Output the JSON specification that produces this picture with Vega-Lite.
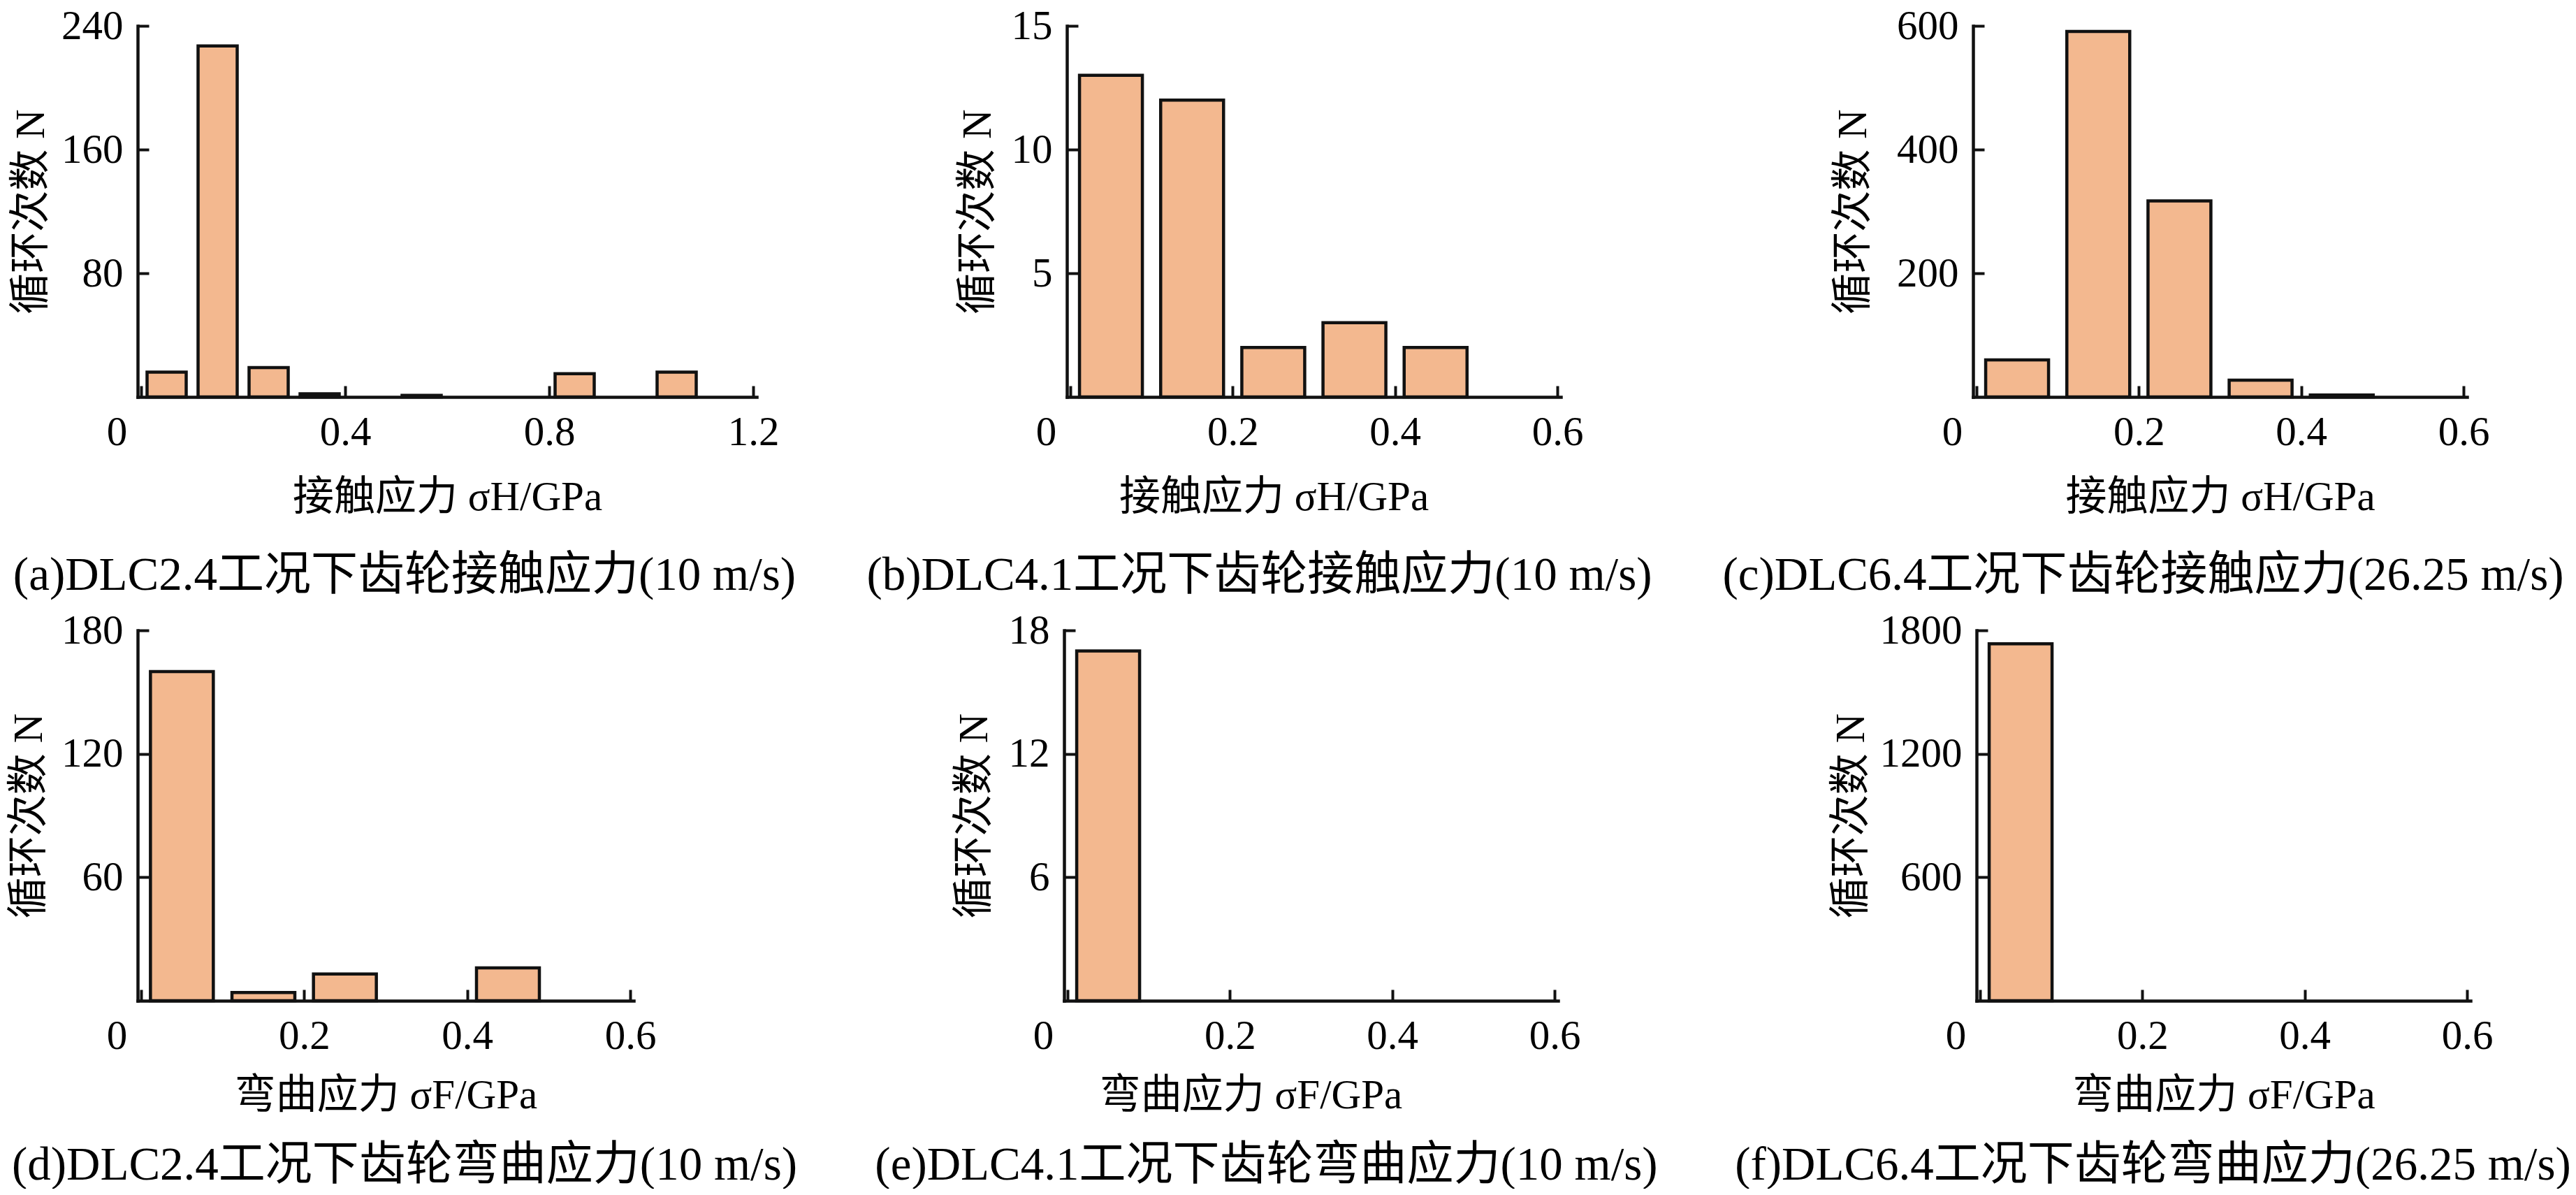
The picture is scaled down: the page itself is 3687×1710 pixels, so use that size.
{
  "$schema": "https://vega.github.io/schema/vega-lite/v6.json",
  "description": "Gear stress histograms (cycle counts) for DLC2.4, DLC4.1, DLC6.4",
  "background": "white",
  "padding": {"left": 11, "top": 8, "right": 0, "bottom": 0},
  "data": {
    "values": [
      {"panel": "a", "stress": 0.05, "N": 16},
      {"panel": "a", "stress": 0.15, "N": 227},
      {"panel": "a", "stress": 0.25, "N": 19},
      {"panel": "a", "stress": 0.35, "N": 2},
      {"panel": "a", "stress": 0.55, "N": 1},
      {"panel": "a", "stress": 0.85, "N": 15},
      {"panel": "a", "stress": 1.05, "N": 16},
      {"panel": "b", "stress": 0.05, "N": 13},
      {"panel": "b", "stress": 0.15, "N": 12},
      {"panel": "b", "stress": 0.25, "N": 2},
      {"panel": "b", "stress": 0.35, "N": 3},
      {"panel": "b", "stress": 0.45, "N": 2},
      {"panel": "c", "stress": 0.05, "N": 60},
      {"panel": "c", "stress": 0.15, "N": 591},
      {"panel": "c", "stress": 0.25, "N": 317},
      {"panel": "c", "stress": 0.35, "N": 27},
      {"panel": "c", "stress": 0.45, "N": 3},
      {"panel": "d", "stress": 0.05, "N": 160},
      {"panel": "d", "stress": 0.15, "N": 4},
      {"panel": "d", "stress": 0.25, "N": 13},
      {"panel": "d", "stress": 0.45, "N": 16},
      {"panel": "e", "stress": 0.05, "N": 17},
      {"panel": "f", "stress": 0.05, "N": 1735}
    ]
  },
  "vconcat": [
    {
      "hconcat": [
        {
          "width": 886, "height": 531,
          "transform": [{"filter": "datum.panel === 'a'"}],
          "mark": {"type": "bar", "orient": "vertical", "width": 56},
          "encoding": {
            "x": {"field": "stress", "type": "quantitative",
                  "scale": {"domain": [0, 1.2], "nice": false},
                  "axis": {"values": [0, 0.4, 0.8, 1.2], "title": "接触应力 σH/GPa", "titleY": 143}},
            "y": {"field": "N", "type": "quantitative", "stack": null,
                  "scale": {"domain": [0, 240], "nice": false},
                  "axis": {"values": [80, 160, 240], "title": "循环次数 N", "titleX": -153}}
          },
          "title": {"text": "(a)DLC2.4工况下齿轮接触应力(10 m/s)", "dx": -61, "offset": 50}
        },
        {
          "width": 707, "height": 531,
          "transform": [{"filter": "datum.panel === 'b'"}],
          "mark": {"type": "bar", "orient": "vertical", "width": 90},
          "encoding": {
            "x": {"field": "stress", "type": "quantitative",
                  "scale": {"domain": [0, 0.6], "nice": false},
                  "axis": {"values": [0, 0.2, 0.4, 0.6], "title": "接触应力 σH/GPa", "titleY": 143, "titleX": 296}},
            "y": {"field": "N", "type": "quantitative", "stack": null,
                  "scale": {"domain": [0, 15], "nice": false},
                  "axis": {"values": [5, 10, 15], "title": "循环次数 N", "titleX": -128}}
          },
          "title": {"text": "(b)DLC4.1工况下齿轮接触应力(10 m/s)", "dx": -78, "offset": 50}
        },
        {
          "width": 707, "height": 531,
          "transform": [{"filter": "datum.panel === 'c'"}],
          "mark": {"type": "bar", "orient": "vertical", "width": 90},
          "encoding": {
            "x": {"field": "stress", "type": "quantitative",
                  "scale": {"domain": [0, 0.6], "nice": false},
                  "axis": {"values": [0, 0.2, 0.4, 0.6], "title": "接触应力 σH/GPa", "titleY": 143}},
            "y": {"field": "N", "type": "quantitative", "stack": null,
                  "scale": {"domain": [0, 600], "nice": false},
                  "axis": {"values": [200, 400, 600], "title": "循环次数 N", "titleX": -172}}
          },
          "title": {"text": "(c)DLC6.4工况下齿轮接触应力(26.25 m/s)", "dx": -110, "offset": 50}
        }
      ],
      "spacing": 100
    },
    {
      "hconcat": [
        {
          "width": 710, "height": 530,
          "transform": [{"filter": "datum.panel === 'd'"}],
          "mark": {"type": "bar", "orient": "vertical", "width": 90},
          "encoding": {
            "x": {"field": "stress", "type": "quantitative",
                  "scale": {"domain": [0, 0.6], "nice": false},
                  "axis": {"values": [0, 0.2, 0.4, 0.6], "title": "弯曲应力 σF/GPa", "titleY": 135}},
            "y": {"field": "N", "type": "quantitative", "stack": null,
                  "scale": {"domain": [0, 180], "nice": false},
                  "axis": {"values": [60, 120, 180], "title": "循环次数 N", "titleX": -156}}
          },
          "title": {"text": "(d)DLC2.4工况下齿轮弯曲应力(10 m/s)", "dx": 27, "offset": 38}
        },
        {
          "width": 707, "height": 530,
          "transform": [{"filter": "datum.panel === 'e'"}],
          "mark": {"type": "bar", "orient": "vertical", "width": 90},
          "encoding": {
            "x": {"field": "stress", "type": "quantitative",
                  "scale": {"domain": [0, 0.6], "nice": false},
                  "axis": {"values": [0, 0.2, 0.4, 0.6], "title": "弯曲应力 σF/GPa", "titleY": 135, "titleX": 267}},
            "y": {"field": "N", "type": "quantitative", "stack": null,
                  "scale": {"domain": [0, 18], "nice": false},
                  "axis": {"values": [6, 12, 18], "title": "循环次数 N", "titleX": -129}}
          },
          "title": {"text": "(e)DLC4.1工况下齿轮弯曲应力(10 m/s)", "dx": -64, "offset": 38}
        },
        {
          "width": 707, "height": 530,
          "transform": [{"filter": "datum.panel === 'f'"}],
          "mark": {"type": "bar", "orient": "vertical", "width": 90},
          "encoding": {
            "x": {"field": "stress", "type": "quantitative",
                  "scale": {"domain": [0, 0.6], "nice": false},
                  "axis": {"values": [0, 0.2, 0.4, 0.6], "title": "弯曲应力 σF/GPa", "titleY": 135}},
            "y": {"field": "N", "type": "quantitative", "stack": null,
                  "scale": {"domain": [0, 1800], "nice": false},
                  "axis": {"values": [600, 1200, 1800], "title": "循环次数 N", "titleX": -180}}
          },
          "title": {"text": "(f)DLC6.4工况下齿轮弯曲应力(26.25 m/s)", "dx": -101, "offset": 38}
        }
      ],
      "spacing": 110
    }
  ],
  "spacing": 16,
  "config": {
    "font": "'Liberation Serif', 'Noto Sans CJK SC', serif",
    "view": {"stroke": null},
    "bar": {"fill": "#F3B88F", "stroke": "#111111", "strokeWidth": 4.5},
    "axis": {
      "grid": false,
      "domainColor": "#111111",
      "domainWidth": 4.5,
      "domainCap": "square",
      "tickColor": "#111111",
      "tickWidth": 4,
      "tickSize": -16,
      "labelPadding": 37,
      "labelFontSize": 59,
      "labelColor": "black",
      "labelFlush": false,
      "labelOverlap": false,
      "titleFontSize": 59,
      "titleFontWeight": "normal",
      "titleColor": "black",
      "titleBaseline": "middle"
    },
    "axisX": {
      "format": ".1~f",
      "labelOffset": {"condition": {"test": "datum.value === 0", "value": -35}, "value": 0}
    },
    "axisY": {"format": "d", "titleAngle": -90},
    "title": {
      "orient": "bottom",
      "anchor": "middle",
      "frame": "group",
      "fontSize": 67,
      "fontWeight": "normal",
      "color": "black",
      "baseline": "top"
    }
  }
}
